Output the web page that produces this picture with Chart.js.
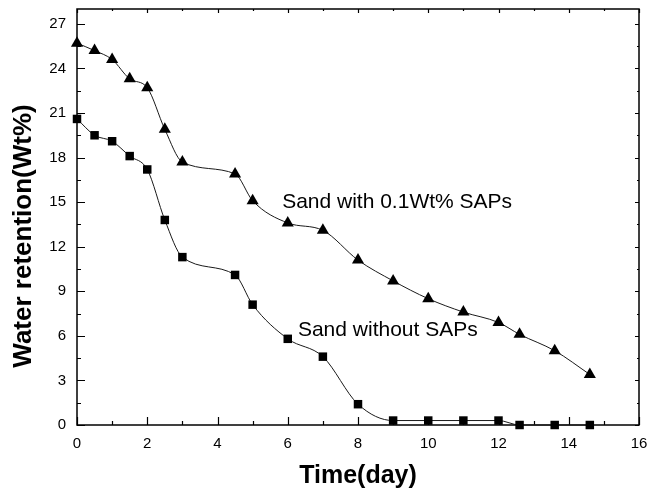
<!DOCTYPE html>
<html>
<head>
<meta charset="utf-8">
<script src="https://cdn.jsdelivr.net/npm/chart.js@4.4.1/dist/chart.umd.min.js"></script>
<style>
  html, body { margin: 0; padding: 0; background: #fff; }
  #wrap { width: 649px; height: 489px; position: relative; }
</style>
</head>
<body>
<div id="wrap"><canvas id="c" width="649" height="489"></canvas></div>
<script>
// Sampling days
const days = [0, 0.5, 1, 1.5, 2, 2.5, 3, 4.5, 5, 6, 7, 8, 9, 10, 11, 12, 12.6, 13.6, 14.6];
// Water retention (Wt%) of sand with 0.1 Wt% SAPs
const withSAPs = [25.7, 25.2, 24.6, 23.3, 22.7, 19.9, 17.7, 16.9, 15.1, 13.6, 13.1, 11.1, 9.7, 8.5, 7.6, 6.9, 6.1, 5.0, 3.4];
// Water retention (Wt%) of plain sand
const withoutSAPs = [20.6, 19.5, 19.1, 18.1, 17.2, 13.8, 11.3, 10.1, 8.1, 5.8, 4.6, 1.4, 0.3, 0.3, 0.3, 0.3, 0.0, 0.0, 0.0];

// Axis ticks
const xTicks = [0, 2, 4, 6, 8, 10, 12, 14, 16];
const xMinor = [1, 3, 5, 7, 9, 11, 13, 15];
const yTicks = [0, 3, 6, 9, 12, 15, 18, 21, 24, 27];
const yMinor = [1.5, 4.5, 7.5, 10.5, 13.5, 16.5, 19.5, 22.5, 25.5];

// Curve labels
const seriesNames = ['Sand with 0.1Wt% SAPs', 'Sand without SAPs'];
const xTitle = 'Time(day)';
const yTitle = 'Water retention(Wt%)';

const FONT = '"Liberation Sans", Arial, Helvetica, sans-serif';

const toPoints = ys => days.map((d, i) => ({ x: d, y: ys[i] }));

// Frame with inward ticks on all four sides, plus axis titles and curve labels
const framePlugin = {
  id: 'frame',
  beforeDatasetsDraw(chart) {
    const { ctx, chartArea: a, scales: { x, y } } = chart;
    ctx.save();
    ctx.strokeStyle = '#000';
    ctx.lineWidth = 1.5;
    ctx.strokeRect(a.left, a.top, a.right - a.left, a.bottom - a.top);
    ctx.lineWidth = 1.2;
    ctx.beginPath();
    const tickX = (vals, lenB, lenT) => vals.forEach(v => {
      const px = Math.round(x.getPixelForValue(v)) + 0.5;
      ctx.moveTo(px, a.bottom); ctx.lineTo(px, a.bottom - lenB);
      ctx.moveTo(px, a.top); ctx.lineTo(px, a.top + lenT);
    });
    const tickY = (vals, lenL, lenR) => vals.forEach(v => {
      const py = Math.round(y.getPixelForValue(v)) + 0.5;
      ctx.moveTo(a.left, py); ctx.lineTo(a.left + lenL, py);
      ctx.moveTo(a.right, py); ctx.lineTo(a.right - lenR, py);
    });
    tickX(xTicks, 8, 4);
    tickX(xMinor, 4, 2);
    tickY(yTicks, 8, 4);
    tickY(yMinor, 4, 2);
    ctx.stroke();
    ctx.restore();
  },
  afterDraw(chart) {
    const { ctx, chartArea: a, scales: { x, y } } = chart;
    ctx.save();
    ctx.fillStyle = '#000';
    // x axis title
    ctx.font = 'bold 25px ' + FONT;
    ctx.textAlign = 'center';
    ctx.textBaseline = 'alphabetic';
    ctx.fillText(xTitle, (a.left + a.right) / 2, 483);
    // y axis title
    ctx.save();
    ctx.translate(31, 236);
    ctx.rotate(-Math.PI / 2);
    ctx.font = 'bold 26px ' + FONT;
    ctx.fillText(yTitle, 0, 0);
    ctx.restore();
    // curve labels, anchored in data coordinates
    ctx.font = '21px ' + FONT;
    ctx.textAlign = 'left';
    ctx.fillText(seriesNames[0], x.getPixelForValue(5.84), y.getPixelForValue(14.6));
    ctx.fillText(seriesNames[1], x.getPixelForValue(6.29), y.getPixelForValue(5.96));
    ctx.restore();
  }
};

const seriesStyle = {
  borderColor: '#1a1a1a',
  borderWidth: 1,
  backgroundColor: '#000',
  pointBorderWidth: 0,
  pointBackgroundColor: '#000',
  cubicInterpolationMode: 'monotone',
  clip: false
};

new Chart(document.getElementById('c'), {
  type: 'line',
  data: {
    datasets: [
      Object.assign({ label: seriesNames[0], data: toPoints(withSAPs), pointStyle: 'triangle', pointRadius: 7 }, seriesStyle),
      Object.assign({ label: seriesNames[1], data: toPoints(withoutSAPs), pointStyle: 'rect', pointRadius: 6 }, seriesStyle)
    ]
  },
  options: {
    responsive: false,
    animation: false,
    devicePixelRatio: 1,
    layout: { padding: { left: 0, right: 10, top: 9, bottom: 0 } },
    plugins: { legend: { display: false }, tooltip: { enabled: false } },
    scales: {
      x: {
        type: 'linear',
        min: 0, max: 16,
        grid: { display: false, drawTicks: false },
        border: { display: false },
        afterBuildTicks: s => { s.ticks = xTicks.map(v => ({ value: v })); },
        afterFit: s => { s.height = 64; s.paddingLeft = 0; s.paddingRight = 0; },
        ticks: { color: '#000', padding: 10, maxRotation: 0, font: { family: FONT, size: 15 } }
      },
      y: {
        type: 'linear',
        min: 0, max: 28,
        grid: { display: false, drawTicks: false },
        border: { display: false },
        afterBuildTicks: s => { s.ticks = yTicks.map(v => ({ value: v })); },
        afterFit: s => { s.width = 77; s.paddingTop = 0; s.paddingBottom = 0; },
        ticks: { color: '#000', padding: 11, font: { family: FONT, size: 15 } }
      }
    }
  },
  plugins: [framePlugin]
});
</script>
</body>
</html>
